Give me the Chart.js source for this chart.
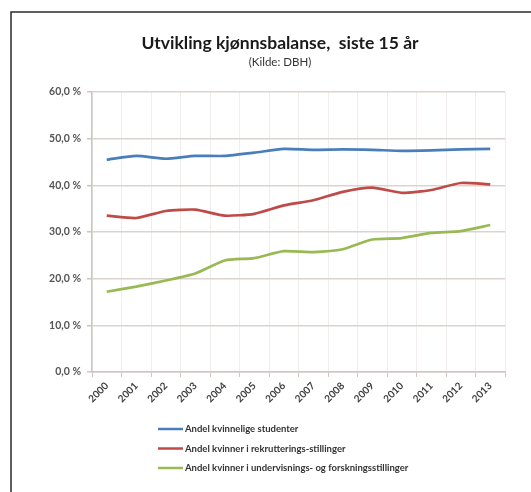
<!DOCTYPE html>
<html>
<head>
<meta charset="utf-8">
<script src="https://cdn.jsdelivr.net/npm/chart.js@4.4.1/dist/chart.umd.min.js"></script>
<style>
  html, body { margin: 0; padding: 0; background: #fff; }
  #wrap { width: 531px; height: 492px; }
</style>
</head>
<body>
<div id="wrap"><canvas id="kjonnChart" width="531" height="492"></canvas></div>
<script>
// Årstall og andeler (prosent)
const years = ['2000', '2001', '2002', '2003', '2004', '2005', '2006', '2007', '2008', '2009', '2010', '2011', '2012', '2013'];
const studenter = [45.5, 46.3, 45.7, 46.3, 46.3, 47.0, 47.8, 47.6, 47.7, 47.6, 47.4, 47.5, 47.7, 47.8];
const rekruttering = [33.5, 33.0, 34.5, 34.8, 33.5, 33.9, 35.7, 36.8, 38.6, 39.5, 38.4, 39.0, 40.5, 40.2];
const undervisning = [17.2, 18.3, 19.6, 21.1, 23.9, 24.4, 25.9, 25.7, 26.3, 28.4, 28.7, 29.8, 30.2, 31.5];
const yTicks = [0, 10, 20, 30, 40, 50, 60];

const seriesNames = [
  'Andel kvinnelige studenter',
  'Andel kvinner i rekrutterings-stillinger',
  'Andel kvinner i undervisnings- og forskningsstillinger',
];
const seriesColors = ['#4a7ebb', '#be4b48', '#98b954'];

const fontFamily = 'Lato, "Open Sans", sans-serif';

// ramme rundt diagrammet
const framePlugin = {
  id: 'frame',
  beforeDraw(chart) {
    const ctx = chart.ctx;
    ctx.save();
    ctx.fillStyle = '#fff';
    ctx.fillRect(0, 0, chart.width, chart.height);
    ctx.strokeStyle = '#2b2b2b';
    ctx.lineWidth = 1.5;
    ctx.strokeRect(11, 12, chart.width + 20, chart.height + 20);
    ctx.restore();
  },
};

// forklaring under aksen, én serie per linje
const stackedLegend = {
  id: 'stackedLegend',
  afterDraw(chart) {
    const ctx = chart.ctx;
    const area = chart.chartArea;
    const x0 = area.left + 66;
    const y0 = area.bottom + 57;
    ctx.save();
    ctx.font = 'bold 9.5px ' + fontFamily;
    ctx.textBaseline = 'middle';
    ctx.textAlign = 'left';
    chart.data.datasets.forEach((ds, i) => {
      const y = y0 + i * 19.5;
      ctx.strokeStyle = ds.borderColor;
      ctx.lineWidth = 2.5;
      ctx.beginPath();
      ctx.moveTo(x0, y);
      ctx.lineTo(x0 + 25, y);
      ctx.stroke();
      ctx.fillStyle = '#333';
      ctx.fillText(ds.label, x0 + 27, y);
    });
    ctx.restore();
  },
};

const datasets = [studenter, rekruttering, undervisning].map((values, i) => ({
  label: seriesNames[i],
  data: values,
  borderColor: seriesColors[i],
  backgroundColor: seriesColors[i],
  borderWidth: 2.7,
  pointRadius: 0,
  tension: 0.2,
  fill: false,
}));

new Chart(document.getElementById('kjonnChart').getContext('2d'), {
  type: 'line',
  data: { labels: years, datasets: datasets },
  options: {
    responsive: false,
    animation: false,
    devicePixelRatio: 1,
    layout: { padding: { left: 29, right: 0, top: 0, bottom: 80 } },
    plugins: {
      legend: { display: false },
      tooltip: { enabled: false },
      title: {
        display: true,
        text: 'Utvikling kjønnsbalanse,  siste 15 år',
        color: '#1a1a1a',
        font: { family: fontFamily, size: 17.5, weight: 'bold', lineHeight: 1.2 },
        padding: { top: 32.5, bottom: 2 },
      },
      subtitle: {
        display: true,
        text: '(Kilde: DBH)',
        color: '#333',
        font: { family: fontFamily, size: 11.5, lineHeight: 1.2 },
        padding: { top: 0, bottom: 22.7 },
      },
    },
    scales: {
      x: {
        type: 'category',
        offset: true,
        afterFit(scale) { scale.height = 40; },
        grid: {
          offset: true,
          color: '#f1eded',
          tickColor: '#cfc4c1',
          tickLength: 5,
        },
        border: { color: '#cfc4c1', width: 1.5 },
        ticks: {
          minRotation: 45,
          maxRotation: 45,
          padding: 3,
          color: '#404040',
          font: { family: fontFamily, size: 10, weight: 'bold' },
        },
      },
      y: {
        min: yTicks[0],
        max: yTicks[yTicks.length - 1],
        afterFit(scale) { scale.width = 63; },
        grid: {
          color: '#dcd3d0',
          lineWidth: 1.5,
          tickColor: '#cfc4c1',
          tickLength: 5,
        },
        border: { color: '#cfc4c1', width: 1.5 },
        ticks: {
          stepSize: yTicks[1] - yTicks[0],
          padding: 6,
          color: '#555',
          font: { family: fontFamily, size: 10.5, weight: 'bold' },
          callback: function (value) {
            return value.toFixed(1).replace('.', ',') + ' %';
          },
        },
      },
      // tom akse til høyre, gir luft mellom plottet og rammen
      yRight: {
        position: 'right',
        display: true,
        afterFit(scale) { scale.width = 26; },
        grid: { display: false },
        border: { display: false },
        ticks: { display: false },
      },
    },
  },
  plugins: [framePlugin, stackedLegend],
});
</script>
</body>
</html>
